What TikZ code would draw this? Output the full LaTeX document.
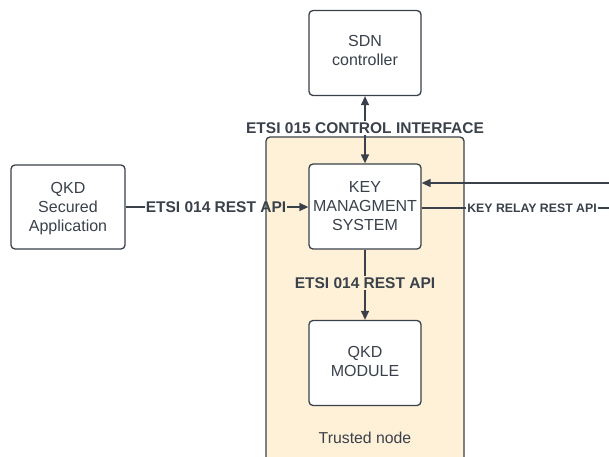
\documentclass[tikz,border=0pt]{standalone}
\usepackage{fontspec}
\setmainfont{Liberation Sans}
\usetikzlibrary{arrows.meta}
\definecolor{ink}{HTML}{3A414B}
\definecolor{cream}{HTML}{FEF1D7}
\tikzset{
  box/.style={draw=ink, line width=1.3pt, fill=white, rounded corners=4pt,
    minimum width=112pt, minimum height=85pt, align=center,
    font=\fontsize{16}{19}\selectfont, text=ink},
  lbl/.style={font=\bfseries\fontsize{15.5}{17}\selectfont, text=ink, inner sep=1pt},
  smalllbl/.style={font=\bfseries\fontsize{12.3}{13}\selectfont, text=ink, inner sep=1pt},
  wire/.style={draw=ink, line width=1.3pt},
  tip/.style={-{Triangle[length=9pt,width=8pt]}},
}
\begin{document}
\begin{tikzpicture}[x=1pt,y=-1pt]
\useasboundingbox (0,0) rectangle (609,456);
\clip (0,0) rectangle (609,456);
\fill[white] (0,0) rectangle (609,456);
% trusted node container, running past the lower edge
\draw[draw=ink, line width=1.3pt, fill=cream, rounded corners=4pt] (266,137) rectangle (464,475);
\node[text=ink, font=\fontsize{15.8}{17}\selectfont] (trusted) at (365,438) {Trusted node};

% boxes
\node[box, text depth=5pt] (sdn) at (365,53) {SDN\\controller};
\node[box] (kms) at (365,206.5) {KEY\\MANAGMENT\\SYSTEM};
\node[box, text depth=4pt] (qkd) at (365,363) {QKD\\MODULE};
\node[box, text depth=0pt, minimum width=114pt, minimum height=84pt] (app) at (68,207) {QKD\\Secured\\Application};

% control interface between SDN controller and KMS
\node[lbl] (l015) at (365,128) {ETSI 015 CONTROL INTERFACE};
\draw[wire, tip] (l015.north) -- (sdn.south);
\draw[wire, tip] (l015.south) -- (kms.north);

% application to KMS
\node[lbl] (l014a) at (216,207) {ETSI 014 REST API};
\draw[wire] (app.east |- l014a) -- (l014a.west);
\draw[wire, tip] (l014a.east) -- (kms.west |- l014a);

% KMS to QKD module
\node[lbl] (l014b) at (365,283) {ETSI 014 REST API};
\draw[wire] (kms.south) -- (l014b.north);
\draw[wire, tip] (l014b.south) -- (qkd.north);

% key relay links to the right
\coordinate (farin) at (612,183);
\coordinate (farout) at (612,208);
\draw[wire, tip] (farin) -- (kms.east |- farin);
\node[smalllbl] (relay) at (532,208) {KEY RELAY REST API};
\draw[wire] (kms.east |- farout) -- (relay.west);
\draw[wire] (relay.east) -- (farout);
\end{tikzpicture}
\end{document}
